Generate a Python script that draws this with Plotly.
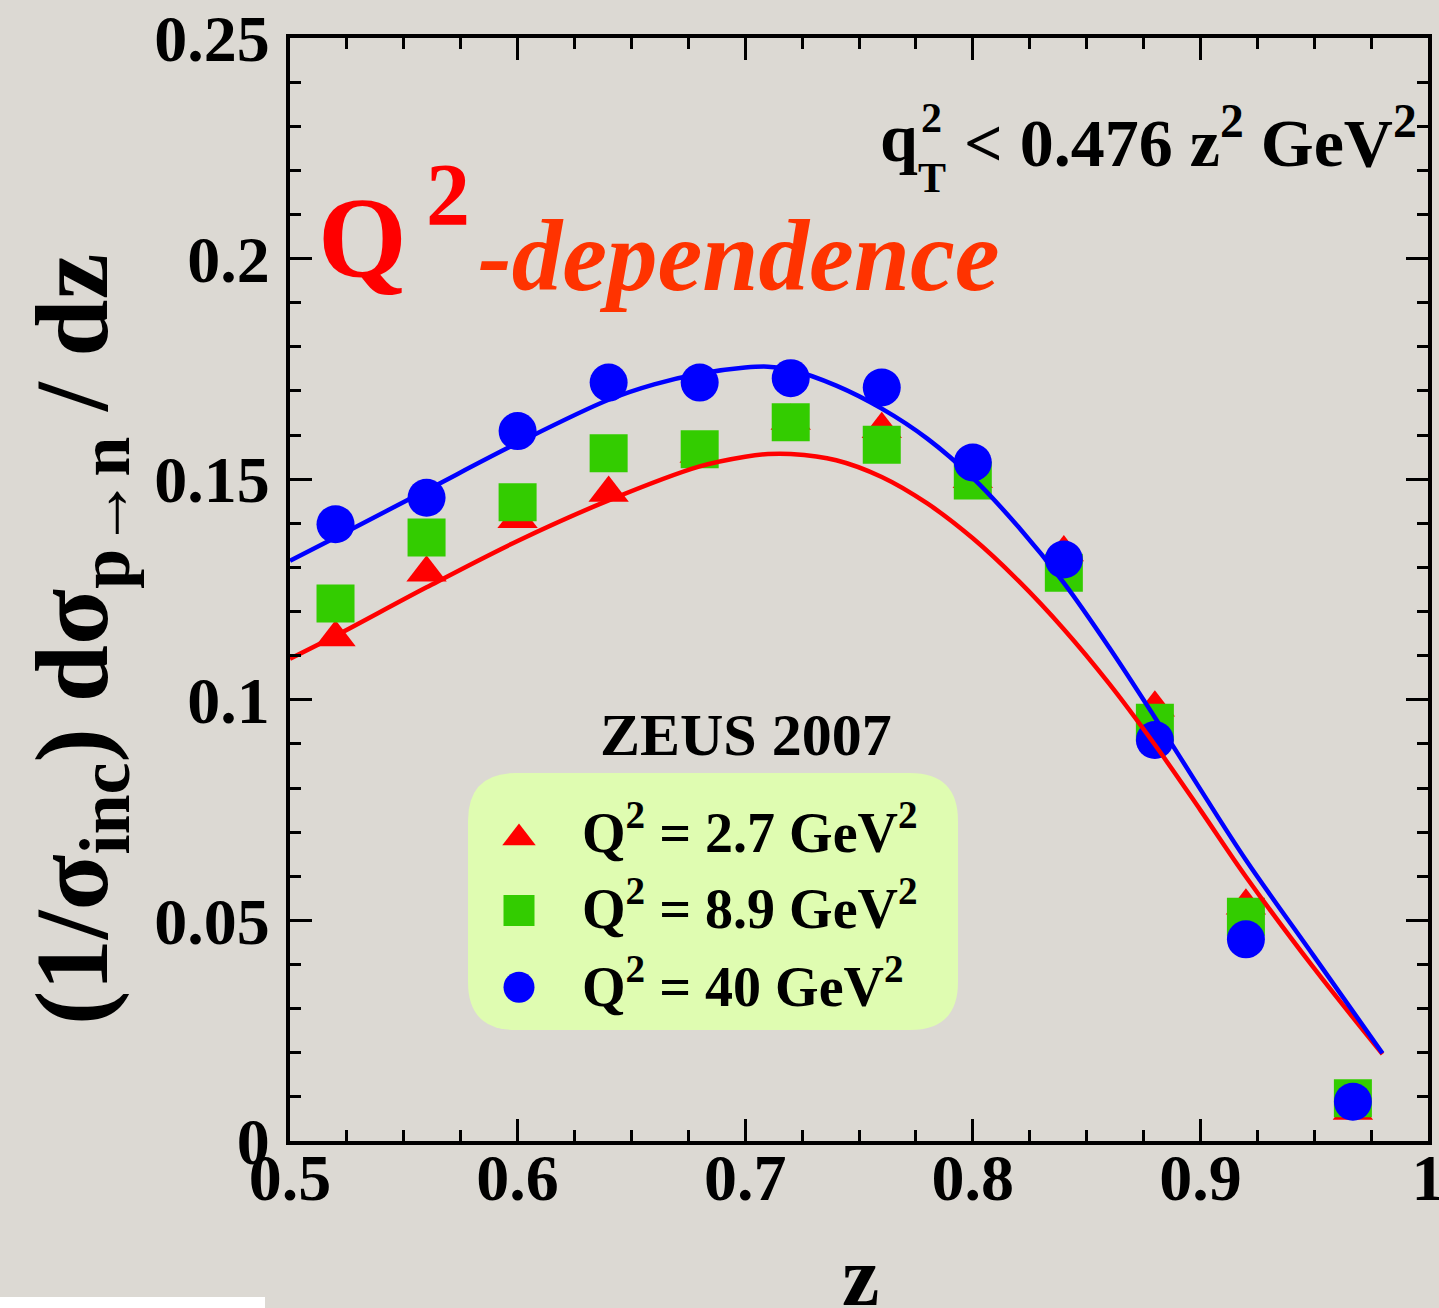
import plotly.graph_objects as go

# ---------------- data ----------------
z_pts = [0.52, 0.56, 0.60, 0.64, 0.68, 0.72, 0.76, 0.80, 0.84, 0.88, 0.92, 0.967]
q2_27 = [0.1141, 0.1288, 0.1409, 0.1469, 0.1557, 0.1632, 0.1613, 0.1500, 0.1334, 0.0982, 0.0533, 0.0068]
q2_89 = [0.1218, 0.1368, 0.1448, 0.1559, 0.1568, 0.1629, 0.1578, 0.1497, 0.1288, 0.0948, 0.0508, 0.0097]
q2_40 = [0.1398, 0.1458, 0.1609, 0.1719, 0.1719, 0.1729, 0.1708, 0.1538, 0.1318, 0.0909, 0.0457, 0.0089]

red_z = [0.50, 0.52, 0.56, 0.60, 0.64, 0.68, 0.70, 0.71, 0.72, 0.74, 0.76, 0.78,
         0.80, 0.82, 0.84, 0.86, 0.88, 0.90, 0.92, 0.95, 0.98]
red_v = [0.1093, 0.1145, 0.1255, 0.1360, 0.1452, 0.1529, 0.1551, 0.1557, 0.1557, 0.1543, 0.1505, 0.1445,
         0.1366, 0.1270, 0.1160, 0.1036, 0.0898, 0.0750, 0.0599, 0.0391, 0.0197]

blue_z = [0.50, 0.52, 0.56, 0.60, 0.64, 0.66, 0.68, 0.70, 0.71, 0.72, 0.74, 0.76, 0.78,
          0.80, 0.82, 0.84, 0.86, 0.88, 0.90, 0.92, 0.95, 0.98]
blue_v = [0.1315, 0.1368, 0.1475, 0.1582, 0.1680, 0.1715, 0.1739, 0.1753, 0.1755, 0.1748, 0.1712, 0.1660, 0.1592,
          0.1503, 0.1392, 0.1265, 0.1118, 0.0960, 0.0797, 0.0637, 0.0418, 0.0199]

legend_labels = ["Q<sup>2</sup> = 2.7 GeV<sup>2</sup>",
                 "Q<sup>2</sup> = 8.9 GeV<sup>2</sup>",
                 "Q<sup>2</sup> = 40 GeV<sup>2</sup>"]

RED = "#ff0000"
GREEN = "#33cc00"
BLUE = "#0000ff"
ORANGE = "#ff3300"
BG = "#dcd9d3"
FONT = "Liberation Serif"

W, H = 1439, 1308
L, R, T, B = 290, 11, 38, 167
PW, PH = W - L - R, H - T - B


def px(x):
    return (x - L) / PW


def py(y):
    return (H - B - y) / PH


fig = go.Figure()

fig.add_trace(go.Scatter(x=z_pts, y=q2_27, mode="markers",
                         marker=dict(symbol="triangle-up", size=35, color=RED, line=dict(width=0))))
fig.add_trace(go.Scatter(x=z_pts, y=q2_89, mode="markers",
                         marker=dict(symbol="square", size=38, color=GREEN, line=dict(width=0))))
fig.add_trace(go.Scatter(x=z_pts, y=q2_40, mode="markers",
                         marker=dict(symbol="circle", size=38, color=BLUE, line=dict(width=0))))
fig.add_trace(go.Scatter(x=red_z, y=red_v, mode="lines",
                         line=dict(color=RED, width=4.5, shape="spline", smoothing=1.0)))
fig.add_trace(go.Scatter(x=blue_z, y=blue_v, mode="lines",
                         line=dict(color=BLUE, width=4.5, shape="spline", smoothing=1.0)))

# legend glyphs on an overlay axis spanning the plot area in [0,1]
leg_x = px(519)
leg_y = [py(838), py(910.5), py(987.3)]
leg_sym = ["triangle-up", "square", "circle"]
leg_size = [29, 31, 31]
leg_col = [RED, GREEN, BLUE]
for yy, s, sz, c in zip(leg_y, leg_sym, leg_size, leg_col):
    fig.add_trace(go.Scatter(x=[leg_x], y=[yy], mode="markers", xaxis="x2", yaxis="y2",
                             marker=dict(symbol=s, size=sz, color=c, line=dict(width=0))))

axis_common = dict(ticks="inside", ticklen=22, tickwidth=3, tickcolor="black",
                   showline=True, linewidth=4, linecolor="black", mirror="ticks",
                   showgrid=False, zeroline=False, automargin=False,
                   ticklabeloverflow="allow",
                   tickfont=dict(family=FONT, size=66, color="black", weight="bold"))

fig.update_layout(
    width=W, height=H,
    margin=dict(l=L, r=R, t=T, b=B, pad=0),
    paper_bgcolor=BG, plot_bgcolor=BG,
    showlegend=False,
    xaxis=dict(range=[0.5, 1.0], tick0=0.5, dtick=0.1, ticklabelstandoff=-24,
               minor=dict(dtick=0.025, ticks="inside", ticklen=11, tickwidth=3,
                          tickcolor="black", showgrid=False),
               **axis_common),
    yaxis=dict(range=[0, 0.25], tick0=0, dtick=0.05, ticklabelstandoff=3,
               minor=dict(dtick=0.01, ticks="inside", ticklen=11, tickwidth=3,
                          tickcolor="black", showgrid=False),
               **axis_common),
    xaxis2=dict(overlaying="x", anchor="y2", range=[0, 1], visible=False, fixedrange=True),
    yaxis2=dict(overlaying="y", anchor="x2", range=[0, 1], visible=False, fixedrange=True),
)

# rounded legend box
x0, x1, y0, y1, r = 468, 958, 773, 1030, 48
rx, ry = r / PW, r / PH
X0, X1, Y0, Y1 = px(x0), px(x1), py(y1), py(y0)
path = (f"M {X0+rx},{Y0} L {X1-rx},{Y0} Q {X1},{Y0} {X1},{Y0+ry} "
        f"L {X1},{Y1-ry} Q {X1},{Y1} {X1-rx},{Y1} L {X0+rx},{Y1} Q {X0},{Y1} {X0},{Y1-ry} "
        f"L {X0},{Y0+ry} Q {X0},{Y0} {X0+rx},{Y0} Z")
fig.add_shape(type="path", path=path, xref="paper", yref="paper",
              fillcolor="#dffcb1", line=dict(width=0), layer="below")

# white strip bottom-left corner
fig.add_shape(type="rect", xref="paper", yref="paper",
              x0=px(0), x1=px(265), y0=py(1308), y1=py(1297),
              fillcolor="white", line=dict(width=0), layer="above")


def ann(text, x, y, size, color="black", xa="center", ya="middle", style="normal", angle=0):
    fig.add_annotation(text=text, x=px(x), y=py(y), xref="paper", yref="paper",
                       xanchor=xa, yanchor=ya, showarrow=False, textangle=angle,
                       font=dict(family=FONT, size=size, color=color, weight="bold", style=style))


# axis titles
ann("(1/σ<sub>inc</sub>) dσ<sub>p→n</sub> / dz", 80, 640, 103, angle=-90)
ann("z", 860, 1276, 84)

# big red label
ann("Q", 316, 238, 114, color=RED, xa="left")
ann("2", 424, 194, 88, color=RED, xa="left")
ann("-dependence", 476, 256, 101, color=ORANGE, xa="left", style="italic")

# kinematic cut
ann("q", 878, 138, 68, xa="left")
ann("2", 919, 118, 42, xa="left")
ann("T", 916, 178, 42, xa="left")
ann("&lt; 0.476 z<sup>2</sup> GeV<sup>2</sup>", 962, 138, 68, xa="left")

# legend
ann("ZEUS 2007", 746, 735, 60)
for lbl, yy in zip(legend_labels, [828, 905, 982]):
    ann(lbl, 580, yy, 56, xa="left")

fig.write_html("out.html")
